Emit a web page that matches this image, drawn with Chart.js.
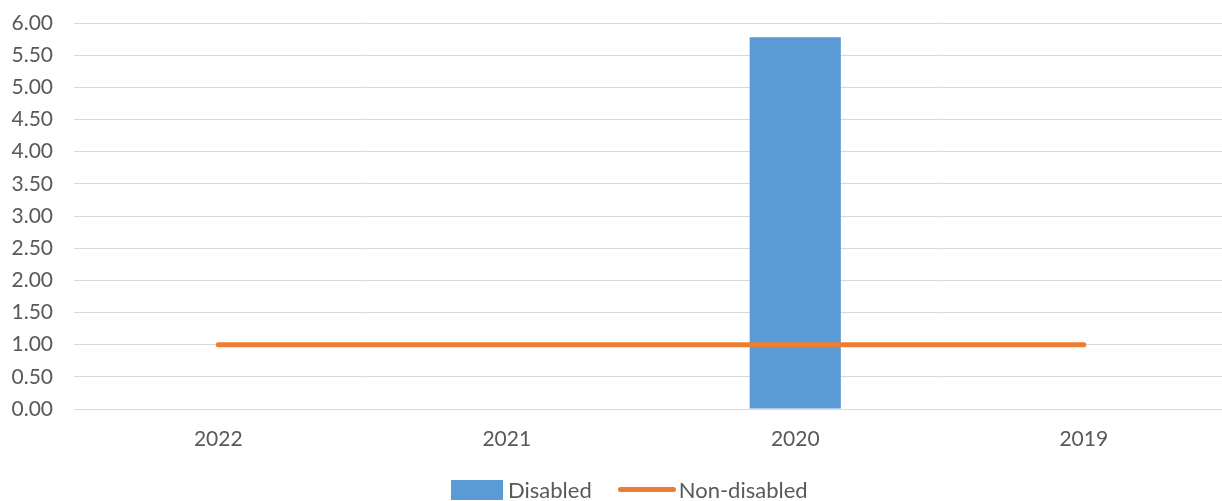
<!DOCTYPE html>
<html>
<head>
<meta charset="utf-8">
<title>Disabled vs non-disabled</title>
<script src="https://cdn.jsdelivr.net/npm/chart.js@4/dist/chart.umd.min.js"></script>
<style>
  html, body { margin: 0; padding: 0; background: #fff; overflow: hidden; }
  #wrap { position: relative; width: 1228px; height: 501px; }
  #chart { display: block; }
  .legend {
    position: absolute; left: 451px; top: 476px;
    display: flex; align-items: center;
    font-family: Lato, 'Open Sans', sans-serif; font-size: 22px; color: #595959;
    white-space: nowrap;
  }
  .legend .box { display: inline-block; width: 52px; height: 20px; margin-right: 5px; }
  .legend .line { display: inline-block; width: 58px; height: 5px; border-radius: 3px; margin: 0 3px 0 26px; }
</style>
</head>
<body>
<div id="wrap">
  <canvas id="chart" width="1228" height="501"></canvas>
  <div class="legend" id="legend"></div>
</div>
<script>
// Ratio by year, disabled vs non-disabled employees.
var years = ['2022', '2021', '2020', '2019'];
var disabled = [null, null, 5.78, null];
var nonDisabled = [1.00, 1.00, 1.00, 1.00];
var seriesNames = ['Disabled', 'Non-disabled'];
var seriesColors = ['#5B9BD5', '#ED7D31'];

(function () {
  var font = 'Lato, "Open Sans", sans-serif';
  var gridColor = '#D9D9D9';
  var textColor = '#595959';

  new Chart(document.getElementById('chart'), {
    type: 'bar',
    data: {
      labels: years,
      datasets: [
        {
          type: 'line',
          label: seriesNames[1],
          data: nonDisabled,
          borderColor: seriesColors[1],
          backgroundColor: seriesColors[1],
          borderWidth: 5,
          borderCapStyle: 'round',
          pointRadius: 0,
          fill: false,
          order: 0
        },
        {
          label: seriesNames[0],
          data: disabled,
          backgroundColor: seriesColors[0],
          categoryPercentage: 1,
          barPercentage: 0.316,
          order: 1
        }
      ]
    },
    options: {
      responsive: false,
      animation: false,
      layout: { autoPadding: false, padding: { top: 23, right: 0, bottom: 0, left: 0 } },
      plugins: { legend: { display: false }, tooltip: { enabled: false } },
      scales: {
        x: {
          afterFit: function (s) { s.height = 92; },
          grid: { display: false, drawTicks: false },
          border: { display: true, color: gridColor, width: 1 },
          ticks: { color: textColor, padding: 18, font: { family: font, size: 21 } }
        },
        y: {
          min: 0,
          max: 6,
          afterFit: function (s) {
            // tick padding would otherwise push the plot top down
            s.width = 74;
            s.paddingTop = 0;
            s.paddingBottom = 0;
          },
          grid: { color: gridColor, lineWidth: 1, drawTicks: false },
          border: { display: false },
          ticks: {
            stepSize: 0.5,
            color: textColor,
            padding: 21,
            font: { family: font, size: 21 },
            callback: function (v) { return Number(v).toFixed(2); }
          }
        }
      }
    }
  });

  // legend below the plot: filled box for the bars, a thick stroke for the line
  var legend = document.getElementById('legend');
  legend.innerHTML =
    '<span class="box" style="background:' + seriesColors[0] + '"></span><span>' + seriesNames[0] + '</span>' +
    '<span class="line" style="background:' + seriesColors[1] + '"></span><span>' + seriesNames[1] + '</span>';
})();
</script>
</body>
</html>
